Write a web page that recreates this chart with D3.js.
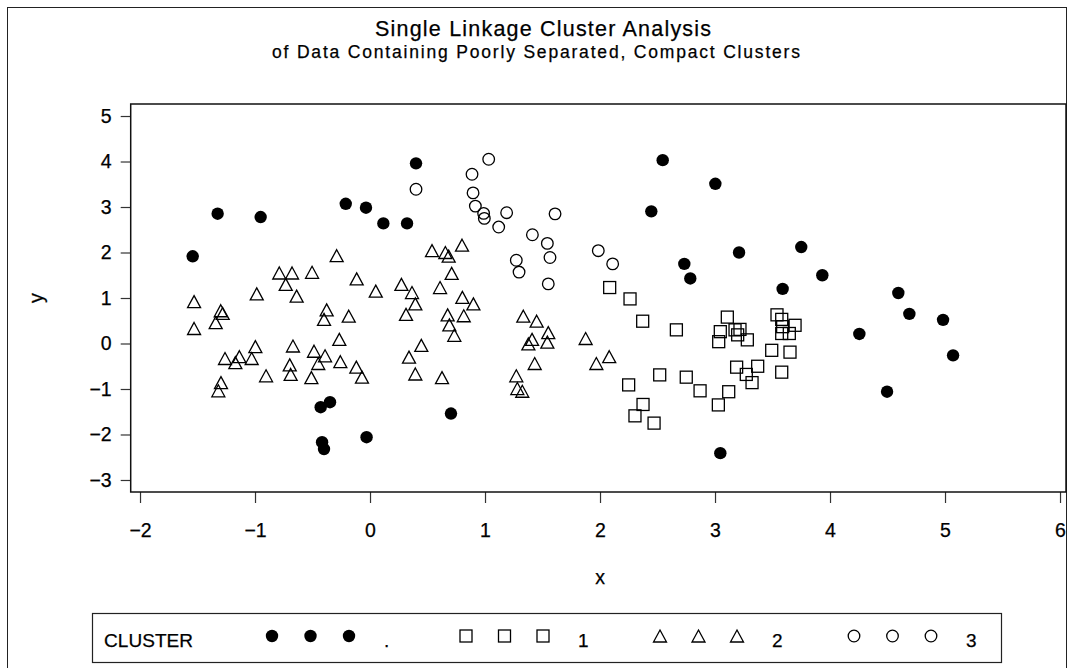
<!DOCTYPE html>
<html>
<head>
<meta charset="utf-8">
<script src="https://cdn.jsdelivr.net/npm/d3@7"></script>
<style>
  html, body { margin: 0; padding: 0; background: #fff; }
  svg { display: block; }
  text { font-family: "Liberation Sans", Arial, Helvetica, sans-serif; fill: #000; stroke: #000; stroke-width: 0.25px; }
</style>
</head>
<body>
<svg id="chart" width="1068" height="668"></svg>
<script>
// Observations not assigned to a cluster (CLUSTER = .)
const unassignedX = [-1.542, -1.325, -0.951, -0.211, -0.035, 0.40, 0.116, 0.322, -0.429, -0.348,
  -0.417, -0.40, -0.03, 0.704, 2.545, 3.003, 2.446, 3.209, 3.75, 2.733,
  2.785, 3.933, 3.588, 4.594, 4.69, 4.983, 4.255, 5.07, 4.496, 3.046];
const unassignedY = [1.916, 2.853, 2.78, 3.07, 2.985, 3.96, 2.64, 2.64, -1.40, -1.29,
  -2.17, -2.32, -2.06, -1.54, 4.03, 3.51, 2.905, 2.00, 2.12, 1.75,
  1.43, 1.50, 1.20, 1.11, 0.65, 0.52, 0.21, -0.26, -1.06, -2.41];

// Cluster 1
const cluster1X = [2.084, 2.261, 2.371, 2.664, 3.107, 3.046, 3.032, 3.174, 3.217, 3.197,
  3.281, 3.539, 3.58, 3.588, 3.696, 3.646, 3.58, 3.493, 3.652, 3.188,
  3.371, 3.272, 3.322, 3.58, 2.519, 2.75, 2.87, 3.119, 3.029, 2.249,
  2.374, 2.304, 2.47];
const cluster1Y = [1.23, 0.98, 0.49, 0.30, 0.58, 0.26, 0.04, 0.30, 0.31, 0.19,
  0.08, 0.63, 0.53, 0.37, 0.40, 0.22, 0.22, -0.15, -0.19, -0.52,
  -0.50, -0.68, -0.86, -0.63, -0.69, -0.74, -1.04, -1.06, -1.35, -0.91,
  -1.34, -1.59, -1.75];

// Cluster 2
const cluster2X = [-1.530, -1.530, -1.298, -1.281, -1.342, -0.985, -0.789, -0.678, -0.733, -0.504,
  -0.638, -0.29, -0.116, -0.377, -0.40, -0.185, -0.267, -0.997, -0.67, -0.487,
  -0.391, -1.261, -1.136, -1.171, -1.029, -0.698, -0.45, -0.258, -0.119, -0.07,
  -0.904, -0.69, -0.51, -1.296, -1.319, 0.539, 0.655, 0.684, 0.80, 0.710,
  0.273, 0.609, 0.05, 0.365, 0.394, 0.313, 0.803, 0.899, 0.675, 0.815,
  0.690, 0.733, 0.446, 0.339, 0.394, 0.626, 1.333, 1.449, 1.55, 1.409,
  1.377, 1.542, 1.875, 1.432, 1.272, 1.281, 1.324, 1.968, 2.08];
const cluster2Y = [0.92, 0.33, 0.72, 0.66, 0.46, 1.09, 1.55, 1.55, 1.30, 1.565,
  1.04, 1.93, 1.42, 0.74, 0.53, 0.60, 0.09, -0.07, -0.055, -0.17,
  -0.27, -0.33, -0.29, -0.42, -0.33, -0.47, -0.44, -0.40, -0.52, -0.74,
  -0.71, -0.68, -0.75, -0.86, -1.04, 2.04, 2.00, 1.92, 2.16, 1.54,
  1.30, 1.23, 1.15, 1.12, 0.87, 0.64, 1.015, 0.87, 0.63, 0.61,
  0.41, 0.18, -0.04, -0.30, -0.67, -0.75, 0.60, 0.49, 0.24, 0.09,
  -0.01, 0.03, 0.11, -0.44, -0.71, -0.99, -1.05, -0.44, -0.29];

// Cluster 3
const cluster3X = [0.40, 1.032, 0.887, 0.896, 0.916, 0.988, 0.994, 1.188, 1.119, 1.609,
  1.412, 1.542, 1.565, 1.272, 1.296, 1.55, 1.985, 2.11];
const cluster3Y = [3.39, 4.05, 3.72, 3.31, 3.02, 2.86, 2.75, 2.875, 2.56, 2.85,
  2.39, 2.20, 1.89, 1.83, 1.57, 1.31, 2.04, 1.75];

const xTicks = [-2, -1, 0, 1, 2, 3, 4, 5, 6];
const yTicks = [-3, -2, -1, 0, 1, 2, 3, 4, 5];
const legendTitle = "CLUSTER";
const legendLabels = [".", "1", "2", "3"];
const titleText = "Single Linkage Cluster Analysis";
const subtitleText = "of Data Containing Poorly Separated, Compact Clusters";

const svg = d3.select("#chart");

// outer border of the graphic
svg.append("rect")
  .attr("x", 7.5).attr("y", 7.5)
  .attr("width", 1059).attr("height", 700)
  .attr("fill", "none").attr("stroke", "#222").attr("stroke-width", 1);

// titles
svg.append("text")
  .attr("x", 375).attr("y", 35.5)
  .attr("font-size", 21.5)
  .attr("textLength", 336).attr("lengthAdjust", "spacing")
  .text(titleText);
svg.append("text")
  .attr("x", 272).attr("y", 57.5)
  .attr("font-size", 17.5)
  .attr("textLength", 528).attr("lengthAdjust", "spacing")
  .text(subtitleText);

// plot frame
const frame = { left: 130.7, right: 1066, top: 104, bottom: 492 };

const x = d3.scaleLinear()
  .domain([-2.081, 6.052])
  .range([frame.left, frame.right]);
const y = d3.scaleLinear()
  .domain([-3.264, 5.264])
  .range([frame.bottom, frame.top]);

// axes
const yAxis = svg.append("g")
  .attr("transform", `translate(${frame.left},0)`)
  .call(d3.axisLeft(y).tickValues(yTicks).tickFormat(d3.format("d"))
    .tickSize(10).tickSizeOuter(0).tickPadding(9));
const xAxis = svg.append("g")
  .attr("transform", `translate(0,${frame.bottom})`)
  .call(d3.axisBottom(x).tickValues(xTicks).tickFormat(d3.format("d"))
    .tickSize(11).tickSizeOuter(0).tickPadding(20));
[xAxis, yAxis].forEach(g => {
  g.select(".domain").remove();
  g.selectAll(".tick line").attr("stroke", "#333").attr("stroke-width", 1.2);
  g.selectAll(".tick text")
    .attr("font-family", '"Liberation Sans", Arial, sans-serif')
    .attr("font-size", 19.5).attr("fill", "#000");
});

svg.append("rect")
  .attr("x", frame.left).attr("y", frame.top)
  .attr("width", frame.right - frame.left).attr("height", frame.bottom - frame.top)
  .attr("fill", "none").attr("stroke", "#111").attr("stroke-width", 1.5);

// axis titles
svg.append("text")
  .attr("x", 600).attr("y", 584)
  .attr("text-anchor", "middle").attr("font-size", 19.5)
  .text("x");
svg.append("text")
  .attr("transform", `translate(43,${(frame.top + frame.bottom) / 2}) rotate(-90)`)
  .attr("text-anchor", "middle").attr("font-size", 19.5)
  .text("y");

// marker shapes
const markerStroke = 1.3;
function drawMarker(g, kind, cx, cy) {
  if (kind === "dot") {
    g.append("circle").attr("cx", cx).attr("cy", cy).attr("r", 6.2).attr("fill", "#000");
  } else if (kind === "square") {
    g.append("rect").attr("x", cx - 6).attr("y", cy - 6).attr("width", 12).attr("height", 12)
      .attr("fill", "none").attr("stroke", "#000").attr("stroke-width", markerStroke);
  } else if (kind === "triangle") {
    const w = 13, h = 12;
    g.append("path")
      .attr("d", `M${cx},${cy - h / 2}L${cx + w / 2},${cy + h / 2}L${cx - w / 2},${cy + h / 2}Z`)
      .attr("fill", "none").attr("stroke", "#000").attr("stroke-width", markerStroke)
      .attr("stroke-linejoin", "miter");
  } else {
    g.append("circle").attr("cx", cx).attr("cy", cy).attr("r", 5.8)
      .attr("fill", "none").attr("stroke", "#000").attr("stroke-width", markerStroke);
  }
}

const series = [
  { kind: "dot", xs: unassignedX, ys: unassignedY },
  { kind: "square", xs: cluster1X, ys: cluster1Y },
  { kind: "triangle", xs: cluster2X, ys: cluster2Y },
  { kind: "circle", xs: cluster3X, ys: cluster3Y }
];

const pts = svg.append("g").attr("class", "points");
series.forEach(s => {
  s.xs.forEach((xv, i) => drawMarker(pts, s.kind, x(xv), y(s.ys[i])));
});

// legend
const legend = svg.append("g").attr("class", "legend");
legend.append("rect")
  .attr("x", 92.5).attr("y", 613.5).attr("width", 909).attr("height", 49)
  .attr("fill", "none").attr("stroke", "#222").attr("stroke-width", 1.2);
legend.append("text")
  .attr("x", 104).attr("y", 646.5).attr("font-size", 19)
  .attr("textLength", 89).attr("lengthAdjust", "spacing")
  .text(legendTitle);
const groupStart = d3.scaleLinear().domain([0, 3]).range([272, 854]);
series.forEach((s, gi) => {
  const gx = groupStart(gi);
  [0, 38.5, 77].forEach(dx => drawMarker(legend, s.kind, gx + dx, 636));
  legend.append("text")
    .attr("x", gx + 112).attr("y", 647).attr("font-size", 19)
    .text(legendLabels[gi]);
});
</script>
</body>
</html>
